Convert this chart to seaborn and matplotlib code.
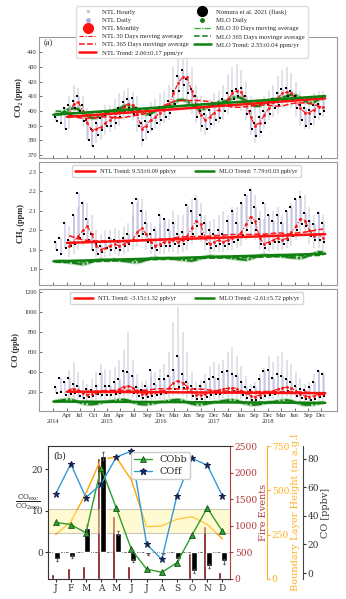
import numpy as np
import pandas as pd
import matplotlib
matplotlib.use('Agg')
import matplotlib.pyplot as plt
import seaborn as sns
from matplotlib.lines import Line2D

sns.set_style('ticks')
plt.rcParams['font.family'] = ['Liberation Serif', 'DejaVu Serif']
plt.rcParams['mathtext.fontset'] = 'dejavuserif'

# ---------------- data: panel (a) ----------------
years = [2014, 2015, 2016, 2017, 2018]
ntl_first_month = 4   # NTL record begins April 2014

# MLO monthly (30-day) values, Jan 2014 - Dec 2018
mlo_co2 = [397.8, 398.0, 399.8, 401.4, 401.9, 401.3, 399.0, 397.0, 395.3, 395.5, 396.8, 398.1,
           399.9, 400.3, 401.5, 403.3, 403.9, 402.8, 401.3, 398.9, 397.6, 398.3, 400.2, 401.9,
           402.5, 404.0, 404.8, 407.4, 407.7, 406.8, 404.4, 402.3, 401.0, 401.6, 403.6, 404.6,
           406.2, 406.4, 407.1, 409.0, 409.7, 408.8, 407.0, 405.0, 403.4, 403.6, 405.2, 406.8,
           407.9, 408.4, 409.0, 410.2, 411.2, 410.8, 408.7, 406.9, 405.5, 405.9, 408.0, 409.1]
mlo_ch4 = [1.840, 1.842, 1.838, 1.835, 1.832, 1.828, 1.825, 1.830, 1.838, 1.845, 1.848, 1.846,
           1.846, 1.848, 1.845, 1.842, 1.840, 1.836, 1.835, 1.840, 1.848, 1.855, 1.858, 1.856,
           1.856, 1.857, 1.853, 1.850, 1.848, 1.845, 1.843, 1.848, 1.856, 1.862, 1.866, 1.864,
           1.862, 1.863, 1.860, 1.856, 1.853, 1.850, 1.848, 1.853, 1.862, 1.868, 1.872, 1.870,
           1.868, 1.870, 1.866, 1.862, 1.860, 1.858, 1.856, 1.862, 1.872, 1.880, 1.888, 1.886]
mlo_co = [102, 110, 117, 120, 112, 96, 82, 74, 72, 78, 88, 97,
          101, 108, 116, 119, 111, 95, 80, 72, 71, 76, 86, 95,
          100, 107, 114, 118, 110, 94, 79, 70, 69, 75, 85, 94,
          98, 106, 113, 116, 108, 92, 78, 69, 68, 73, 83, 92,
          96, 104, 111, 114, 106, 90, 76, 68, 67, 72, 82, 90]

# NTL monthly values, Apr 2014 - Dec 2018
ntl_co2 = [397, 405, 406, 400, 392, 387, 388, 389, 392,
           394, 396, 400, 403, 405, 404, 398, 388, 390, 394, 396, 399,
           401, 404, 412, 419, 423, 423, 414, 404, 397, 394, 396, 399,
           401, 404, 408, 412, 414, 413, 406, 396, 390, 392, 397, 402,
           406, 409, 412, 413, 412, 408, 402, 399, 399, 401, 403, 403]
ntl_ch4 = [1.92, 1.94, 1.97, 2.00, 2.02, 1.98, 1.92, 1.90, 1.91,
           1.92, 1.93, 1.92, 1.93, 1.94, 1.95, 1.99, 2.01, 1.98, 1.94, 1.92, 1.93,
           1.94, 1.94, 1.95, 1.94, 1.95, 1.97, 2.01, 2.05, 2.03, 1.96, 1.93, 1.94,
           1.95, 1.94, 1.95, 1.96, 1.97, 1.99, 2.03, 2.07, 2.05, 1.96, 1.93, 1.94,
           1.95, 1.96, 1.95, 1.96, 1.99, 2.02, 2.06, 2.05, 2.00, 1.97, 1.98, 1.96]
ntl_co = [220, 230, 215, 190, 170, 175, 190, 205, 210,
          205, 210, 225, 250, 260, 240, 200, 175, 180, 190, 200, 205,
          210, 240, 290, 310, 290, 250, 200, 170, 165, 180, 195, 210,
          215, 225, 235, 240, 230, 210, 185, 160, 150, 165, 185, 200,
          210, 225, 240, 245, 235, 205, 175, 155, 150, 160, 170, 180]

# NTL hourly extent per month (Apr 2014 - Dec 2018)
co2_hr_hi = [410, 418, 416, 410, 402, 398, 398, 400, 404,
             404, 408, 412, 414, 416, 413, 410, 400, 403, 406, 408, 412,
             414, 418, 430, 440, 445, 440, 430, 418, 410, 406, 408, 412,
             414, 418, 425, 430, 432, 428, 420, 410, 404, 406, 410, 414,
             418, 424, 428, 430, 426, 420, 414, 410, 410, 412, 414, 414]
co2_hr_lo = [388, 396, 398, 390, 380, 376, 378, 380, 384,
             386, 388, 390, 394, 396, 394, 386, 376, 380, 386, 388, 390,
             392, 394, 400, 405, 408, 405, 398, 392, 386, 384, 388, 390,
             392, 394, 398, 402, 404, 400, 394, 384, 378, 382, 388, 394,
             396, 398, 402, 404, 402, 396, 390, 388, 388, 390, 394, 396]
ch4_hr_hi = [2.02, 2.08, 2.12, 2.15, 2.14, 2.08, 2.00, 1.98, 2.00,
             2.00, 2.01, 2.00, 2.02, 2.04, 2.08, 2.14, 2.16, 2.10, 2.04, 2.02, 2.04,
             2.05, 2.06, 2.10, 2.08, 2.08, 2.12, 2.16, 2.18, 2.14, 2.08, 2.05, 2.06,
             2.08, 2.10, 2.08, 2.12, 2.12, 2.15, 2.18, 2.22, 2.18, 2.10, 2.06, 2.08,
             2.10, 2.12, 2.08, 2.10, 2.14, 2.16, 2.20, 2.18, 2.12, 2.08, 2.10, 2.08]
ch4_hr_lo = [1.86, 1.88, 1.90, 1.92, 1.94, 1.90, 1.86, 1.85, 1.86,
             1.87, 1.88, 1.87, 1.88, 1.89, 1.90, 1.92, 1.94, 1.90, 1.88, 1.87, 1.88,
             1.88, 1.89, 1.89, 1.88, 1.89, 1.90, 1.93, 1.96, 1.94, 1.90, 1.88, 1.89,
             1.89, 1.89, 1.90, 1.90, 1.91, 1.92, 1.95, 1.98, 1.95, 1.90, 1.88, 1.89,
             1.90, 1.90, 1.90, 1.91, 1.92, 1.95, 1.98, 1.97, 1.93, 1.91, 1.91, 1.90]
co_hr_hi = [420, 500, 400, 320, 280, 330, 400, 480, 430,
            420, 450, 520, 620, 800, 520, 380, 300, 320, 350, 400, 430,
            480, 600, 900, 1050, 800, 600, 400, 300, 320, 380, 460, 500,
            480, 520, 600, 650, 560, 460, 360, 280, 300, 380, 440, 560,
            500, 560, 600, 520, 480, 400, 340, 280, 300, 380, 420, 400]
co_hr_lo = [130, 140, 130, 120, 110, 110, 120, 130, 130,
            130, 130, 140, 150, 160, 140, 120, 110, 110, 120, 125, 130,
            130, 140, 160, 170, 160, 140, 120, 105, 100, 110, 120, 130,
            130, 135, 140, 145, 140, 125, 110, 100, 95, 100, 115, 125,
            130, 135, 140, 145, 140, 125, 110, 100, 95, 100, 110, 115]

# Flask samples (Nomura et al. 2021), two per month, Jan 2014 - Dec 2018
co2_flask_a = [396, 398, 402, 404, 407, 410, 404, 394, 388, 392, 395, 397,
               400, 401, 402, 406, 408, 409, 402, 392, 393, 397, 400, 403,
               403, 407, 414, 424, 428, 422, 415, 410, 400, 398, 401, 404,
               404, 408, 412, 414, 415, 416, 410, 400, 392, 396, 400, 405,
               408, 412, 415, 416, 414, 410, 404, 402, 401, 404, 405, 409]
co2_flask_b = [393, 392, 388, 398, 402, 400, 393, 380, 376, 384, 387, 390,
               390, 392, 396, 400, 402, 398, 390, 380, 386, 388, 392, 394,
               396, 399, 405, 414, 418, 412, 402, 396, 390, 388, 391, 394,
               395, 400, 404, 408, 410, 406, 398, 388, 383, 386, 392, 398,
               402, 404, 407, 410, 408, 402, 394, 390, 391, 396, 398, 400]
ch4_flask_a = [1.94, 1.96, 2.04, 1.95, 2.08, 2.19, 2.14, 2.06, 1.98, 1.93, 1.92, 1.94,
               1.96, 1.95, 1.94, 1.96, 1.98, 2.14, 2.16, 2.10, 2.04, 1.98, 2.00, 2.08,
               2.06, 2.00, 2.04, 1.98, 1.99, 2.13, 2.10, 2.16, 2.08, 2.04, 2.00, 1.98,
               2.00, 1.98, 2.05, 2.10, 2.04, 2.14, 2.18, 2.21, 2.12, 2.06, 2.14, 2.08,
               2.05, 2.08, 2.04, 2.10, 2.12, 2.16, 2.17, 2.09, 2.05, 2.03, 2.09, 2.04]
ch4_flask_b = [1.90, 1.88, 1.91, 1.92, 1.93, 1.96, 1.98, 1.95, 1.90, 1.88, 1.89, 1.91,
               1.90, 1.91, 1.90, 1.92, 1.93, 1.95, 1.97, 1.98, 1.94, 1.91, 1.90, 1.92,
               1.92, 1.92, 1.93, 1.92, 1.93, 1.95, 1.98, 2.02, 1.98, 1.93, 1.91, 1.92,
               1.93, 1.92, 1.93, 1.94, 1.95, 1.97, 2.00, 2.04, 2.00, 1.93, 1.91, 1.93,
               1.94, 1.94, 1.93, 1.95, 1.97, 2.00, 2.03, 2.02, 1.97, 1.95, 1.95, 1.94]
co_flask_a = [250, 340, 300, 340, 280, 260, 200, 230, 220, 260, 380, 260,
              260, 300, 330, 410, 400, 360, 250, 220, 260, 420, 280, 330,
              330, 360, 420, 560, 380, 300, 260, 230, 260, 300, 330, 350,
              330, 400, 410, 380, 360, 300, 250, 220, 250, 330, 410, 420,
              340, 380, 360, 330, 300, 260, 230, 220, 250, 300, 410, 380]
co_flask_b = [190, 200, 170, 180, 190, 160, 140, 150, 160, 180, 170, 170,
              170, 180, 190, 200, 210, 190, 160, 140, 150, 160, 170, 180,
              190, 200, 230, 250, 240, 200, 160, 130, 130, 150, 170, 180,
              180, 190, 200, 210, 200, 170, 140, 120, 120, 140, 160, 170,
              180, 190, 200, 210, 190, 160, 140, 125, 120, 130, 150, 160]

# Trend parameters: (value at start, slope per year)
ntl_trend = {'co2': (396.0, 2.66), 'ch4': (1.935, 0.00953), 'co': (199.0, -3.15)}
mlo_trend = {'co2': (397.5, 2.55), 'ch4': (1.840, 0.00779), 'co': (100.0, -2.61)}
trend_labels = {
    'co2': ('NTL Trend: 2.66±0.17 ppm/yr', 'MLO Trend: 2.55±0.04 ppm/yr'),
    'ch4': ('NTL Trend: 9.53±0.09 ppb/yr', 'MLO Trend: 7.79±0.03 ppb/yr'),
    'co': ('NTL Trend: -3.15±1.32 ppb/yr', 'MLO Trend: -2.61±5.72 ppb/yr'),
}

tick_labels = ['\n2014', 'Apr', 'Jul', 'Oct', 'Jan\n2015', 'Apr', 'Jul', 'Sep', 'Dec\n2016',
               'Mar', 'Jun', 'Sep', 'Dec\n2017', 'Mar', 'Jun', 'Sep', 'Dec\n2018',
               'Mar', 'Jun', 'Sep', 'Dec']
tick_step_days = 90

# ---------------- data: panel (b) ----------------
months = ['J', 'F', 'M', 'A', 'M', 'J', 'J', 'A', 'S', 'O', 'N', 'D']
fire_events = [95, 200, 245, 2270, 1180, 245, 10, 15, 5, 495, 1000, 130]
ratio_bar = [-1.7, -1.0, 5.8, 23.2, 4.7, -2.0, -0.5, -0.3, -1.5, -4.4, -3.3, -2.1]
ratio_err = [0.4, 0.4, 0.8, 1.0, 0.5, 0.4, 0.2, 0.2, 0.4, 0.5, 0.5, 0.6]
cobb = [7.2, 6.7, 4.7, 20.4, 10.7, 0.7, -4.0, -4.8, -2.5, 4.2, 10.7, 5.1]
coff = [14.0, 21.3, 13.2, 16.4, 22.9, 24.4, 2.0, -1.7, 13.6, 22.6, 21.0, 13.6]
blh = [251, 322, 483, 677, 686, 558, 295, 299, 337, 351, 308, 226]
band_lo, band_hi = 4.6, 10.4

# ---------------- figure ----------------
W, H = 346, 599
fig = plt.figure(figsize=(W / 100, H / 100), dpi=100)

def fr(l, t, r, b):
    return [l / W, 1 - b / H, (r - l) / W, (b - t) / H]

t_full = np.array([y + (m - 0.5) / 12 for y in years for m in range(1, 13)])
t_ntl = t_full[ntl_first_month - 1:]
xt = [2014 + i * tick_step_days / 365.25 for i in range(len(tick_labels))]
xlim = (2013.737, 2019.215)

RED = '#ff1010'
GRN = '#108010'
frame_col = '#9a9a9a'

panels = [
    ('co2', fr(39, 37, 337, 158), (368, 450.5), np.arange(370, 441, 10), 'CO₂ (ppm)',
     mlo_co2, ntl_co2, co2_hr_lo, co2_hr_hi, co2_flask_a, co2_flask_b, '{:.0f}'),
    ('ch4', fr(39, 162, 337, 285), (1.718, 2.352), np.arange(1.8, 2.31, 0.1), 'CH₄ (ppm)',
     mlo_ch4, ntl_ch4, ch4_hr_lo, ch4_hr_hi, ch4_flask_a, ch4_flask_b, '{:.1f}'),
    ('co', fr(39, 289, 337, 411), (5, 1230), np.arange(200, 1201, 200), 'CO (ppb)',
     mlo_co, ntl_co, co_hr_lo, co_hr_hi, co_flask_a, co_flask_b, '{:.0f}'),
]

axes_a = []
for key, rect, ylim, yt, ylab, mlo, ntl, hlo, hhi, fa, fb, fmt in panels:
    ax = fig.add_axes(rect)
    axes_a.append(ax)
    # NTL hourly (gray streaks) and daily (lavender)
    ax.vlines(t_ntl, hlo, hhi, color='#d6d6e0', lw=1.4, alpha=0.7, zorder=1)
    ax.vlines(t_full + 0.012, fb, fa, color='#9a9ad8', lw=1.1, alpha=0.5, zorder=2)
    # MLO daily band + 30-day mean
    sns.lineplot(x=t_full, y=mlo, ax=ax, color=GRN, lw=3.0, alpha=0.3, zorder=3)
    sns.lineplot(x=t_full, y=mlo, ax=ax, color=GRN, lw=1.5, zorder=4,
                 linestyle=(0, (5, 1, 1, 1)))
    # flask samples
    sns.scatterplot(x=np.concatenate([t_full - 0.015, t_full + 0.025]),
                    y=np.concatenate([fa, fb]), ax=ax, color='black', s=3.5,
                    marker='s', linewidth=0, zorder=6)
    # NTL monthly / 30-day
    sns.lineplot(x=t_ntl, y=ntl, ax=ax, color=RED, lw=0.8, zorder=7,
                 linestyle=(0, (4, 1.5, 1, 1.5)), marker='o', markersize=2,
                 markeredgewidth=0)
    # 365-day averages
    ntl_365 = pd.Series(ntl).rolling(12, center=True, min_periods=6).mean()
    mlo_365 = pd.Series(mlo).rolling(12, center=True, min_periods=6).mean()
    sns.lineplot(x=t_ntl, y=ntl_365.values, ax=ax, color=RED, lw=1.1, ls='--', zorder=8)
    sns.lineplot(x=t_full, y=mlo_365.values, ax=ax, color=GRN, lw=1.1, ls='--', zorder=8)
    # trends
    n0, ns = ntl_trend[key]
    m0, ms = mlo_trend[key]
    tn = np.array([t_ntl[0] - 0.04, t_full[-1] + 0.04])
    tm = np.array([t_full[0] - 0.04, t_full[-1] + 0.04])
    l1, = ax.plot(tn, n0 + ns * (tn - tn[0]), color=RED, lw=1.8, zorder=9)
    l2, = ax.plot(tm, m0 + ms * (tm - tm[0]), color=GRN, lw=1.8, zorder=9)
    ax.set_xlim(*xlim)
    ax.set_ylim(*ylim)
    ax.set_yticks(yt)
    ax.set_yticklabels([fmt.format(v) for v in yt])
    ax.set_xticks(xt)
    if key == 'co':
        ax.set_xticklabels(tick_labels)
    else:
        ax.set_xticklabels([])
    ax.tick_params(labelsize=4.6, direction='in', length=2, width=0.5, pad=1.5,
                   colors='#333333')
    ax.set_ylabel(ylab, fontsize=6, fontweight='bold', labelpad=3)
    ax.set_xlabel('')
    for s in ax.spines.values():
        s.set_color(frame_col)
        s.set_linewidth(0.8)
    if key != 'co2':
        ax.legend([l1, l2], trend_labels[key], loc='upper center', ncol=2,
                  fontsize=4.6, handlelength=3, columnspacing=3, borderpad=0.5,
                  frameon=True, bbox_to_anchor=(0.495, 1.0))

axes_a[0].text(0.015, 0.985, '(a)', transform=axes_a[0].transAxes, fontsize=6,
               va='top', ha='left')

# main legend for panel (a)
h = [
    Line2D([], [], ls='', marker='.', color='#c8c8c8', ms=3),
    Line2D([], [], ls='', marker='o', color='#a9a9e6', ms=2.5),
    Line2D([], [], ls='', marker='o', color=RED, ms=7),
    Line2D([], [], ls=(0, (4, 1.5, 1, 1.5)), color=RED, lw=0.8),
    Line2D([], [], ls='--', color=RED, lw=1.1),
    Line2D([], [], ls='-', color=RED, lw=1.8),
    Line2D([], [], ls='', marker='o', color='black', ms=7),
    Line2D([], [], ls='', marker='o', color=GRN, ms=2.5),
    Line2D([], [], ls=(0, (5, 1, 1, 1)), color='#30b030', lw=0.9),
    Line2D([], [], ls='--', color=GRN, lw=1.1),
    Line2D([], [], ls='-', color=GRN, lw=1.8),
]
lab = ['NTL Hourly', 'NTL Daily', 'NTL Monthly', 'NTL 30 Days moving average',
       'NTL 365 Days movinge average', trend_labels['co2'][0],
       'Nomura et al. 2021 (flask)', 'MLO Daily', 'MLO 30 Days moving average',
       'MLO 365 Days movinge average', trend_labels['co2'][1]]
fig.legend(h, lab, loc='upper left', bbox_to_anchor=(73 / W, 1 - 3 / H), ncol=2,
           fontsize=4.8, labelspacing=0.38, handlelength=2.6, columnspacing=0.8,
           borderpad=0.4, frameon=True, framealpha=1, edgecolor='#dddddd')

# ---------------- panel (b) ----------------
bfont = ['DejaVu Serif']
axb = fig.add_axes(fr(48, 446, 230, 579))
ax_fire = axb.twinx()
ax_blh = axb.twinx()
ax_co = axb.twinx()
x = np.arange(len(months))

ax_fire.bar(x - 0.18, fire_events, width=0.2, color='#7a0c0c', zorder=1)
ax_fire.set_ylim(0, 2500)
ax_fire.set_yticks(np.arange(0, 2501, 500))
fire_col = '#b03a3a'
ax_fire.tick_params(axis='y', colors=fire_col, labelsize=6.5, length=2.5, pad=1)
ax_fire.spines['right'].set_color(fire_col)
ax_fire.set_ylabel('Fire Events', color=fire_col, fontsize=7, family=bfont, labelpad=1)

sns.lineplot(x=x, y=blh, ax=ax_blh, color='#ffa500', lw=1.0)
ax_blh.set_ylim(0, 750)
ax_blh.set_yticks([0, 250, 500, 750])
blh_col = '#ffb020'
ax_blh.spines['right'].set_position(('axes', 1.203))
ax_blh.spines['right'].set_color(blh_col)
ax_blh.tick_params(axis='y', colors=blh_col, labelsize=6.5, length=2.5, pad=1)
ax_blh.set_ylabel('Boundary Layer Height (m a.g.l', color=blh_col, fontsize=7,
                  family=bfont, labelpad=1)

ax_co.set_ylim(-4.2, 89)
ax_co.set_yticks(np.arange(0, 81, 20))
ax_co.spines['right'].set_position(('axes', 1.40))
ax_co.spines['right'].set_color('#444444')
ax_co.tick_params(axis='y', colors='#333333', labelsize=6.5, length=2.5, pad=1)
ax_co.set_ylabel('CO [ppbv]', color='#333333', fontsize=7, family=bfont, labelpad=1)

axb.set_zorder(ax_co.get_zorder() + 1)
axb.patch.set_visible(False)
axb.axhspan(band_lo, band_hi, facecolor='#fff59a', alpha=0.45, edgecolor='#8a8a8a',
            lw=0.8, zorder=0)
axb.axhline(0, color='#555555', ls=(0, (3, 1.5, 1, 1.5)), lw=0.6, zorder=1)
axb.bar(x + 0.1, ratio_bar, width=0.4, color='black', yerr=ratio_err,
        error_kw=dict(ecolor='#555555', elinewidth=0.6, capsize=1), zorder=2)
sns.lineplot(x=x, y=cobb, ax=axb, color='#2ca02c', lw=1.0, marker='^', markersize=4,
             markerfacecolor='#2ca02c', markeredgecolor='#0b3d0b', markeredgewidth=0.5,
             zorder=4)
sns.lineplot(x=x, y=coff, ax=axb, color='#3399d6', lw=1.0, marker='*', markersize=4.5,
             markerfacecolor='#16244f', markeredgecolor='#16244f', zorder=4)
axb.set_xlim(-0.5, 11.5)
axb.set_ylim(-6.4, 25.6)
axb.set_yticks([0, 10, 20])
axb.set_xticks(x)
axb.set_xticklabels(months, family=bfont)
for t in axb.get_yticklabels():
    t.set_family(bfont)
for a in (ax_fire, ax_blh, ax_co):
    for t in a.get_yticklabels():
        t.set_family(bfont)
axb.tick_params(labelsize=6.5, length=2.5, pad=1, colors='#333333')
axb.set_xlabel('')
axb.set_ylabel('')
for s in ['left', 'top', 'bottom']:
    axb.spines[s].set_color('#333333')
    axb.spines[s].set_linewidth(0.8)
for a in (ax_fire, ax_blh, ax_co):
    for s in ['left', 'top', 'bottom']:
        a.spines[s].set_visible(False)
axb.spines['right'].set_visible(False)

hb = [Line2D([], [], color='#2ca02c', lw=1.0, marker='^', ms=4, mfc='#2ca02c',
             mec='#0b3d0b', mew=0.5),
      Line2D([], [], color='#3399d6', lw=1.0, marker='*', ms=4.5, mfc='#16244f',
             mec='#16244f')]
axb.legend(hb, ['CObb', 'COff'], loc='upper left', bbox_to_anchor=(0.43, 0.99),
           prop={'family': bfont, 'size': 7}, handlelength=1.8, borderpad=0.3,
           labelspacing=0.3, framealpha=1)
axb.text(0.03, 0.96, '(b)', transform=axb.transAxes, fontsize=6.5, family=bfont,
         va='top', ha='left')
fig.text(28 / W, 1 - 502 / H, r'$\frac{\mathrm{CO_{exc}}}{\mathrm{CO_{2exc}}}$',
         fontsize=7.5, ha='center', va='center', color='#222222')

fig.savefig('out.png', dpi=100)
